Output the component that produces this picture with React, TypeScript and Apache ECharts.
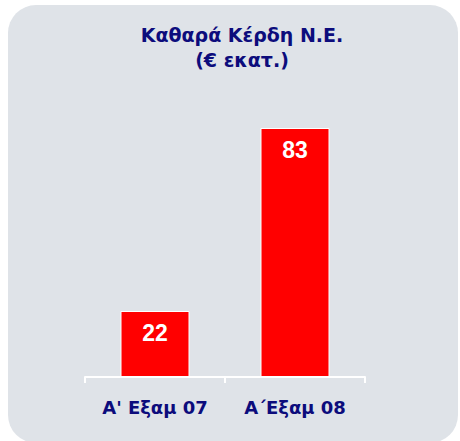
import React, { useEffect, useRef } from "react";
import * as echarts from "echarts";

const titleLines = ["Καθαρά Κέρδη Ν.Ε.", "(€ εκατ.)"];
const categories = ["A' Εξαμ 07", "Α΄Εξαμ 08"];
const values = [22, 83];

const NAVY = "#0c0c7c";
const FONT = '"DejaVu Sans"';

export default function App() {
  const ref = useRef<HTMLDivElement>(null);
  useEffect(() => {
    if (!ref.current) return;
    const chart = echarts.init(ref.current, null, { renderer: "svg" });
    chart.setOption({
      animation: false,
      backgroundColor: "#ffffff",
      graphic: [
        {
          type: "rect",
          z: -10,
          shape: { x: 8, y: 5, width: 450, height: 438, r: 28 },
          style: { fill: "#dfe3e8" },
        },
        {
          type: "text",
          x: 242,
          y: 22,
          style: {
            text: titleLines.join("\n"),
            font: `bold 19px ${FONT}`,
            fill: NAVY,
            align: "center",
            lineHeight: 25,
          },
        },
      ],
      grid: { left: 85, right: 95, top: 77, bottom: 64 },
      xAxis: {
        type: "category",
        data: categories,
        axisLine: { lineStyle: { color: "#ffffff", width: 2 } },
        axisTick: { show: true, length: 6, lineStyle: { color: "#ffffff", width: 2 } },
        axisLabel: {
          margin: 21,
          fontFamily: FONT,
          fontWeight: 700,
          fontSize: 18,
          color: NAVY,
        },
      },
      yAxis: { type: "value", min: 0, max: 100, show: false, splitLine: { show: false } },
      series: [
        {
          type: "bar",
          data: values,
          barWidth: 69,
          itemStyle: { color: "#ff0000", borderColor: "#ffffff", borderWidth: 1 },
          label: {
            show: true,
            position: "insideTop",
            distance: 10,
            color: "#ffffff",
            fontFamily: '"Liberation Sans"',
            fontWeight: "bold",
            fontSize: 23,
          },
        },
      ],
    });
    return () => chart.dispose();
  }, []);
  return (
    <div
      ref={ref}
      style={{ position: "fixed", left: 0, top: 0, width: 460, height: 441 }}
    />
  );
}
